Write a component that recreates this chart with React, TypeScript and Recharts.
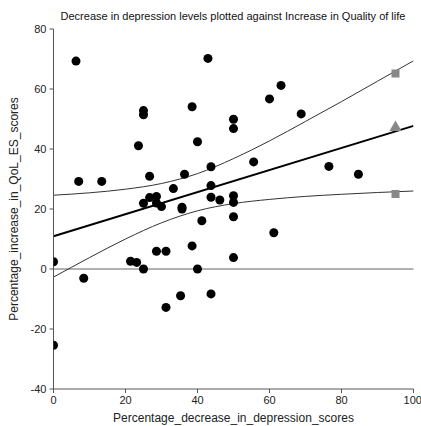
import {
  ComposedChart,
  Line,
  ReferenceLine,
  Scatter,
  XAxis,
  YAxis,
  Label,
} from "recharts";

// observed points (depression decrease %, QoL increase %)
const depressionDecrease = [
  0, 0, 6.25, 7.0, 8.4, 13.4, 21.4, 23.1, 23.6, 25.0, 25.0, 25.0, 25.0, 26.7, 26.7,
  28.6, 28.6, 28.6, 30.0, 31.25, 31.25, 33.3, 35.3, 35.7, 35.7, 36.4, 38.5, 38.5,
  40.0, 40.0, 41.2, 42.9, 43.75, 43.75, 43.75, 43.75, 46.2, 50, 50, 50, 50, 50, 50,
  55.6, 60.0, 61.2, 63.2, 68.8, 76.5, 84.7,
];
const qolIncrease = [
  2.4, -25.4, 69.3, 29.2, -3.1, 29.2, 2.6, 2.2, 41.1, 52.8, 51.4, 0, 21.9, 30.9, 23.8,
  24.2, 22.0, 5.9, 20.8, 5.9, -12.8, 26.8, -8.9, 20.6, 20.0, 31.6, 54.1, 7.7,
  42.4, 0, 16.1, 70.2, 34.1, 27.8, 23.9, -8.3, 23.0, 49.9, 46.8, 24.4, 22.2, 17.4, 3.8,
  35.7, 56.7, 12.1, 61.2, 51.7, 34.2, 31.6,
];

// fitted line + confidence band
const fitX = [0, 100];
const fitY = [10.9, 47.7];
const bandX = [0, 10, 20, 30, 40, 50, 60, 70, 80, 90, 100];
const bandUpper = [24.6, 25.4, 26.6, 28.5, 31.8, 36.8, 42.7, 49.2, 55.8, 62.6, 69.4];
const bandLower = [-2.7, 3.8, 10.0, 15.4, 19.4, 21.8, 23.2, 24.2, 24.9, 25.5, 26.0];

// predicted values at x = 95
const predX = 95;
const predUpper = 65.2;
const predMid = 47.2;
const predLower = 25.0;

const yTicks = [-40, -20, 0, 20, 40, 60, 80];
const xTicks = [0, 20, 40, 60, 80, 100];

const points = depressionDecrease.map((x, i) => ({ x, y: qolIncrease[i] }));
const fit = fitX.map((x, i) => ({ x, y: fitY[i] }));
const upper = bandX.map((x, i) => ({ x, y: bandUpper[i] }));
const lower = bandX.map((x, i) => ({ x, y: bandLower[i] }));
const predBounds = [
  { x: predX, y: predUpper },
  { x: predX, y: predLower },
];
const predCentre = [{ x: predX, y: predMid }];

const font = "'Liberation Sans', Arial, sans-serif";
const axisColor = "#555";
const tickStyle = { fontSize: 11, fill: "#222", fontFamily: font };

export default function App() {
  return (
    <div style={{ position: "absolute", left: 0, top: 0, width: 421, height: 426, background: "#fff" }}>
      <div
        style={{
          position: "absolute",
          top: 10,
          left: 53,
          width: 360,
          textAlign: "center",
          fontFamily: font,
          fontSize: 11,
          color: "#111",
          whiteSpace: "nowrap",
        }}
      >
        Decrease in depression levels plotted against Increase in Quality of life
      </div>
      <ComposedChart
        width={421}
        height={426}
        margin={{ top: 29, right: 7.5, bottom: 0, left: 0 }}
        style={{ fontFamily: font }}
      >
        <XAxis
          type="number"
          dataKey="x"
          domain={[0, 100]}
          ticks={xTicks}
          height={37}
          tickSize={4}
          tickMargin={3}
          tick={tickStyle}
          stroke={axisColor}
          allowDataOverflow
        >
          <Label
            value="Percentage_decrease_in_depression_scores"
            position="insideBottom"
            offset={4}
            style={{ fontSize: 12, fill: "#222", fontFamily: font }}
          />
        </XAxis>
        <YAxis
          type="number"
          dataKey="y"
          domain={[-40, 80]}
          ticks={yTicks}
          width={53.5}
          tickSize={4}
          tickMargin={3}
          tick={tickStyle}
          stroke={axisColor}
          allowDataOverflow
        >
          <Label
            value="Percentage_increase_in_QoL_ES_scores"
            angle={-90}
            position="insideLeft"
            offset={14}
            style={{ fontSize: 12, fill: "#222", fontFamily: font, textAnchor: "middle" }}
          />
        </YAxis>
        <ReferenceLine y={0} stroke="#999" strokeWidth={1.5} />
        <Line
          data={upper}
          dataKey="y"
          type="monotone"
          stroke="#333"
          strokeWidth={1}
          dot={false}
          isAnimationActive={false}
        />
        <Line
          data={lower}
          dataKey="y"
          type="monotone"
          stroke="#333"
          strokeWidth={1}
          dot={false}
          isAnimationActive={false}
        />
        <Line
          data={fit}
          dataKey="y"
          type="linear"
          stroke="#000"
          strokeWidth={2}
          dot={false}
          isAnimationActive={false}
        />
        <Scatter data={points} dataKey="y" fill="#000" shape="circle" isAnimationActive={false} />
        <Scatter data={predBounds} dataKey="y" fill="#888" shape="square" isAnimationActive={false} />
        <Scatter data={predCentre} dataKey="y" fill="#888" shape="triangle" isAnimationActive={false} />
      </ComposedChart>
    </div>
  );
}
